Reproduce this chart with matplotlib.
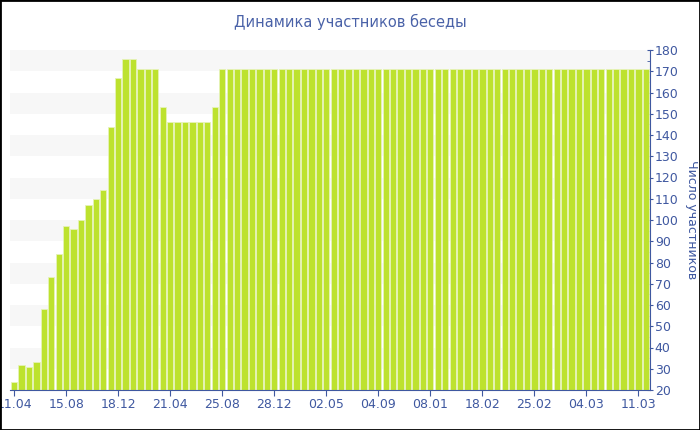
import numpy as np
import matplotlib.pyplot as plt
from matplotlib.patches import Rectangle

# число участников по датам (86 столбцов)
members = [24, 32, 31, 33, 58, 73, 84, 97, 96, 100,
           107, 110, 114, 144, 167, 176, 176, 171, 171, 171,
           153, 146, 146, 146, 146, 146, 146, 153] + [171] * 58
tick_labels = ['11.04', '15.08', '18.12', '21.04', '25.08', '28.12', '02.05',
               '04.09', '08.01', '18.02', '25.02', '04.03', '11.03']
tick_step = 7

TEXT = '#3f58a0'
BAR = '#bde22e'

fig = plt.figure(figsize=(7, 4.3), dpi=100)
ax = fig.add_axes([10 / 700, 40 / 430, 640 / 700, 340 / 430])

x = np.arange(len(members))
ax.bar(x, members, width=0.84, color=BAR, edgecolor='#e6f3b8', linewidth=0.6, zorder=2)

# серые полосы фона
for lo in range(30, 180, 20):
    ax.axhspan(lo, lo + 10, color='#f7f7f7', zorder=0, lw=0)

ax.set_xlim(-0.55, len(members) - 0.45)
ax.set_ylim(20, 180)

ax.yaxis.tick_right()
ax.yaxis.set_label_position('right')
ax.set_yticks(np.arange(20, 181, 10))
ax.set_yticks(np.arange(25, 180, 10), minor=True)
ax.tick_params(axis='y', which='major', direction='inout', length=5, color=TEXT,
               labelcolor=TEXT, labelsize=9, pad=1)
ax.tick_params(axis='y', which='minor', direction='in', length=2, color=TEXT)
ax.set_ylabel('Число участников', rotation=270, color=TEXT, fontsize=9, labelpad=14)

ax.set_xticks(x[::tick_step])
ax.set_xticklabels(tick_labels)
ax.tick_params(axis='x', direction='out', length=4, color=TEXT, labelcolor=TEXT,
               labelsize=9, pad=2)

for s in ['top', 'left']:
    ax.spines[s].set_visible(False)
ax.spines['right'].set_color(TEXT)
ax.spines['bottom'].set_color(TEXT)
ax.set_facecolor('white')

fig.text(0.5, 1 - 22 / 430, 'Динамика участников беседы', ha='center', va='center',
         color='#4a62a8', fontsize=10.5)

fig.add_artist(Rectangle((0, 0), 1, 1, transform=fig.transFigure, fill=False,
                         edgecolor='black', linewidth=2))

plt.savefig('out.png', dpi=100)
